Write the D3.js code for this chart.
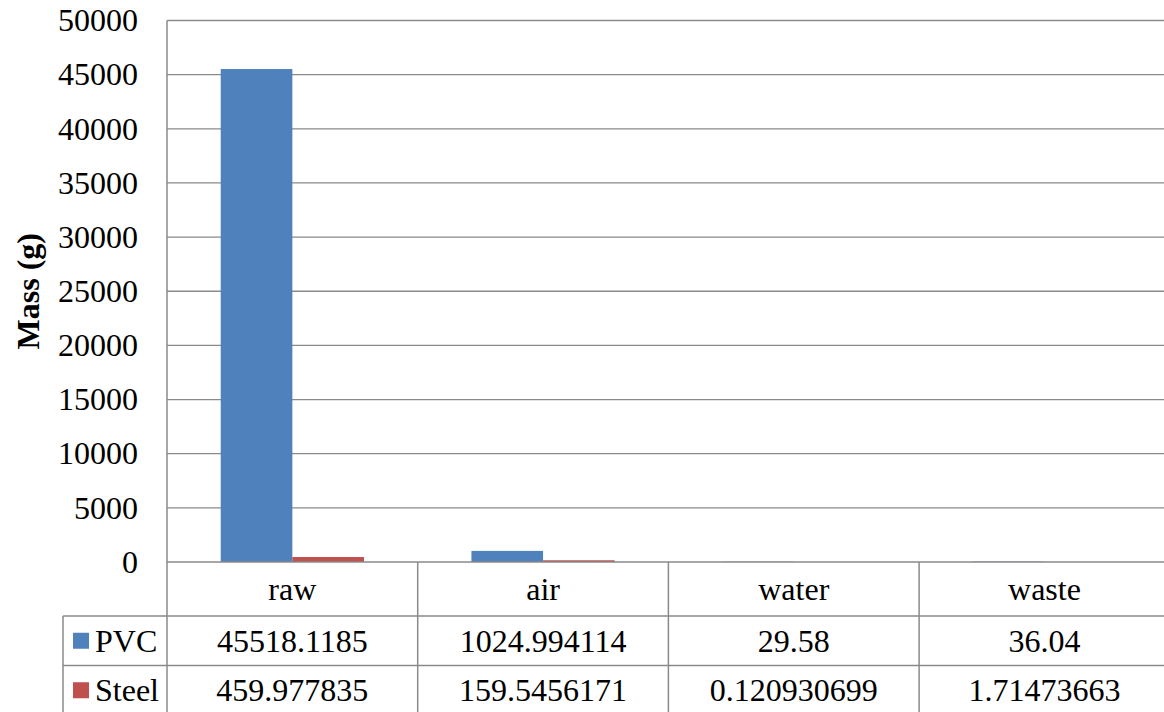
<!DOCTYPE html>
<html>
<head>
<meta charset="utf-8">
<script src="https://cdn.jsdelivr.net/npm/d3@7"></script>
<style>
  html, body { margin: 0; padding: 0; background: #fff; }
  svg { display: block; }
</style>
</head>
<body>
<svg id="chart" width="1164" height="712"></svg>
<script>
// Mass per inventory category for the two pipe materials
const categories = ["raw", "air", "water", "waste"];
const seriesNames = ["PVC", "Steel"];
const pvcValues = [45518.1185, 1024.994114, 29.58, 36.04];
const steelValues = [459.977835, 159.5456171, 0.120930699, 1.71473663];
const pvcLabels = ["45518.1185", "1024.994114", "29.58", "36.04"];
const steelLabels = ["459.977835", "159.5456171", "0.120930699", "1.71473663"];
const yTicks = [0, 5000, 10000, 15000, 20000, 25000, 30000, 35000, 40000, 45000, 50000];

const seriesValues = [pvcValues, steelValues];
const seriesLabels = [pvcLabels, steelLabels];
const colors = ["#4f81bd", "#c0504d"];
const gridColor = "#8a8a8a";
const FONT = "'Liberation Serif'";
const FS = "32px";

const svg = d3.select("#chart");

const plotLeft = 167, plotTop = 20.5, plotBottom = 562;
const catWidth = 250.7;
const plotRight = plotLeft + catWidth * categories.length;
const tableLeft = 63;
const rowH = 49.5;
const headerBottom = 616;

const x = d3.scaleBand().domain(categories).range([plotLeft, plotRight]).paddingInner(0).paddingOuter(0);
const xs = d3.scaleBand().domain(seriesNames).range([0, x.bandwidth()]).paddingInner(0).paddingOuter(0.75);
const y = d3.scaleLinear().domain([0, 50000]).range([plotBottom, plotTop]);

function styleText(sel) {
  return sel.style("font-family", FONT).style("font-size", FS).style("fill", "#000");
}

// horizontal gridlines
svg.append("g").selectAll("line").data(yTicks.filter(d => d > 0)).join("line")
  .attr("x1", plotLeft).attr("x2", plotRight)
  .attr("y1", d => y(d)).attr("y2", d => y(d))
  .attr("stroke", gridColor).attr("stroke-width", 1.3);

// value axis labels
const yAxis = d3.axisLeft(y).tickValues(yTicks).tickSize(0).tickPadding(29).tickFormat(d3.format("d"));
const gy = svg.append("g").attr("transform", `translate(${plotLeft},0)`).call(yAxis);
gy.attr("font-family", null).attr("font-size", null);
gy.select(".domain").remove();
styleText(gy.selectAll("text"));

// bars
seriesNames.forEach((s, si) => {
  svg.append("g").selectAll("rect").data(categories).join("rect")
    .attr("x", d => x(d) + xs(s))
    .attr("width", xs.bandwidth())
    .attr("y", (d, i) => y(seriesValues[si][i]))
    .attr("height", (d, i) => plotBottom - y(seriesValues[si][i]))
    .attr("fill", colors[si]);
});

// axis lines (left + baseline)
svg.append("line").attr("x1", plotLeft).attr("x2", plotLeft).attr("y1", plotTop).attr("y2", 712 + 5)
  .attr("stroke", gridColor).attr("stroke-width", 1.5);
svg.append("line").attr("x1", plotLeft).attr("x2", plotRight).attr("y1", plotBottom).attr("y2", plotBottom)
  .attr("stroke", gridColor).attr("stroke-width", 1.5);

// data table
const table = svg.append("g");
const rowLines = [headerBottom, headerBottom + rowH, headerBottom + 2 * rowH];
table.selectAll("line.row").data(rowLines).join("line").attr("class", "row")
  .attr("x1", tableLeft).attr("x2", plotRight)
  .attr("y1", d => d).attr("y2", d => d)
  .attr("stroke", gridColor).attr("stroke-width", 1.5);
table.append("line").attr("x1", tableLeft).attr("x2", tableLeft).attr("y1", headerBottom).attr("y2", 712 + 5)
  .attr("stroke", gridColor).attr("stroke-width", 1.5);
table.selectAll("line.col").data(categories.slice(1)).join("line").attr("class", "col")
  .attr("x1", d => x(d)).attr("x2", d => x(d))
  .attr("y1", plotBottom).attr("y2", 712 + 5)
  .attr("stroke", gridColor).attr("stroke-width", 1.5);

// category header
styleText(table.selectAll("text.cat").data(categories).join("text").attr("class", "cat")
  .attr("x", d => x(d) + x.bandwidth() / 2)
  .attr("y", (plotBottom + headerBottom) / 2)
  .attr("text-anchor", "middle").attr("dominant-baseline", "central")
  .text(d => d));

// series rows
seriesNames.forEach((s, si) => {
  const cy = headerBottom + rowH * si + rowH / 2;
  table.append("rect").attr("x", 73).attr("y", cy - 8).attr("width", 16).attr("height", 16).attr("fill", colors[si]);
  styleText(table.append("text").attr("x", 95).attr("y", cy).attr("dominant-baseline", "central").text(s));
  styleText(table.selectAll(`text.v${si}`).data(categories).join("text").attr("class", `v${si}`)
    .attr("x", d => x(d) + x.bandwidth() / 2)
    .attr("y", cy)
    .attr("text-anchor", "middle").attr("dominant-baseline", "central")
    .text((d, i) => seriesLabels[si][i]));
});

// value axis title
styleText(svg.append("text")
  .attr("transform", `translate(28,${(plotTop + plotBottom) / 2}) rotate(-90)`)
  .attr("text-anchor", "middle").attr("dominant-baseline", "central")
  .text("Mass (g)"))
  .style("font-weight", "bold");
</script>
</body>
</html>
